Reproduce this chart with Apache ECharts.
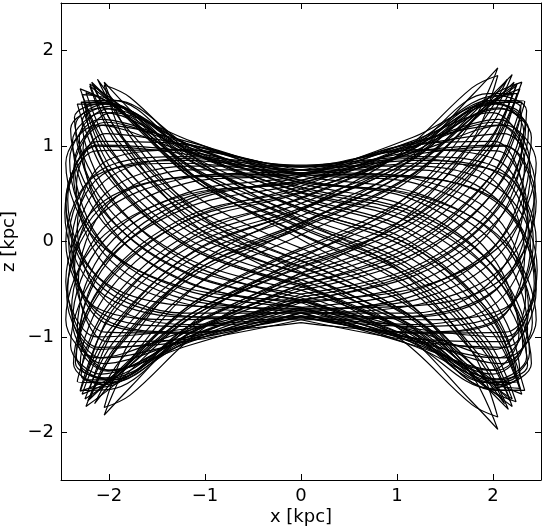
<!DOCTYPE html>
<html>
<head>
<meta charset="utf-8">
<script src="https://cdn.jsdelivr.net/npm/echarts@6/dist/echarts.min.js"></script>
<style>
  html, body { margin: 0; padding: 0; background: #fff; }
  #chart { width: 543px; height: 529px; }
</style>
</head>
<body>
<div id="chart"></div>
<script>
// orbit traced in the meridional plane, one closed loop per array (x, z in kpc)
const loopsWide = [
  [[0,-.14],[-1.11,-.66],[-1.92,-1.39],[-2.22,-1.67],[-1.92,-1.13],[-1.11,-.35],[0,.14],[1.11,.66],[1.92,1.39],[2.22,1.67],[1.92,1.13],[1.11,.35],[0,-.14]],
  [[0,-.27],[-1.14,-.79],[-1.97,-1.45],[-2.28,-1.6],[-1.97,-.95],[-1.14,-.18],[0,.27],[1.14,.79],[1.97,1.45],[2.28,1.6],[1.97,.95],[1.14,.18],[0,-.27]],
  [[0,-.4],[-1.17,-.89],[-2.02,-1.48],[-2.33,-1.47],[-2.02,-.74],[-1.17,0],[0,.4],[1.17,.89],[2.02,1.48],[2.33,1.47],[2.02,.74],[1.17,0],[0,-.4]],
  [[0,-.51],[-1.15,-.96],[-1.99,-1.45],[-2.3,-1.3],[-1.99,-.5],[-1.15,.18],[0,.51],[1.15,.96],[1.99,1.45],[2.3,1.3],[1.99,.5],[1.15,-.18],[0,-.51]],
  [[0,-.61],[-1.2,-1.01],[-2.08,-1.39],[-2.4,-1.09],[-2.08,-.26],[-1.2,.35],[0,.61],[1.2,1.01],[2.08,1.39],[2.4,1.09],[2.08,.26],[1.2,-.35],[0,-.61]],
  [[0,-.69],[-1.19,-1.03],[-2.06,-1.28],[-2.38,-.85],[-2.06,0],[-1.19,.51],[0,.69],[1.19,1.03],[2.06,1.28],[2.38,.85],[2.06,0],[1.19,-.51],[0,-.69]],
  [[0,-.75],[-1.22,-1.01],[-2.11,-1.13],[-2.44,-.58],[-2.11,.26],[-1.22,.66],[0,.75],[1.22,1.01],[2.11,1.13],[2.44,.58],[2.11,-.26],[1.22,-.66],[0,-.75]],
  [[0,-.79],[-1.18,-.96],[-2.04,-.95],[-2.36,-.3],[-2.04,.5],[-1.18,.79],[0,.79],[1.18,.96],[2.04,.95],[2.36,.3],[2.04,-.5],[1.18,-.79],[0,-.79]],
  [[0,-.8],[-1.21,-.89],[-2.1,-.74],[-2.42,0],[-2.1,.74],[-1.21,.89],[0,.8],[1.21,.89],[2.1,.74],[2.42,0],[2.1,-.74],[1.21,-.89],[0,-.8]],
  [[0,-.79],[-1.23,-.79],[-2.13,-.5],[-2.46,.3],[-2.13,.95],[-1.23,.96],[0,.79],[1.23,.79],[2.13,.5],[2.46,-.3],[2.13,-.95],[1.23,-.96],[0,-.79]],
  [[0,-.75],[-1.17,-.66],[-2.03,-.26],[-2.34,.58],[-2.03,1.13],[-1.17,1.01],[0,.75],[1.17,.66],[2.03,.26],[2.34,-.58],[2.03,-1.13],[1.17,-1.01],[0,-.75]],
  [[0,-.69],[-1.2,-.51],[-2.09,0],[-2.41,.85],[-2.09,1.28],[-1.2,1.03],[0,.69],[1.2,.51],[2.09,0],[2.41,-.85],[2.09,-1.28],[1.2,-1.03],[0,-.69]],
  [[0,-.61],[-1.16,-.35],[-2,.26],[-2.31,1.09],[-2,1.39],[-1.16,1.01],[0,.61],[1.16,.35],[2,-.26],[2.31,-1.09],[2,-1.39],[1.16,-1.01],[0,-.61]],
  [[0,-.51],[-1.18,-.18],[-2.04,.5],[-2.36,1.3],[-2.04,1.45],[-1.18,.96],[0,.51],[1.18,.18],[2.04,-.5],[2.36,-1.3],[2.04,-1.45],[1.18,-.96],[0,-.51]],
  [[0,-.4],[-1.13,0],[-1.96,.74],[-2.26,1.47],[-1.96,1.48],[-1.13,.89],[0,.4],[1.13,0],[1.96,-.74],[2.26,-1.47],[1.96,-1.48],[1.13,-.89],[0,-.4]],
  [[0,-.27],[-1.15,.18],[-1.99,.95],[-2.3,1.6],[-1.99,1.45],[-1.15,.79],[0,.27],[1.15,-.18],[1.99,-.95],[2.3,-1.6],[1.99,-1.45],[1.15,-.79],[0,-.27]],
  [[0,-.14],[-1.09,.35],[-1.89,1.13],[-2.18,1.67],[-1.89,1.39],[-1.09,.66],[0,.14],[1.09,-.35],[1.89,-1.13],[2.18,-1.67],[1.89,-1.39],[1.09,-.66],[0,-.14]]
];

const loopsMid = [
  [[0,-.07],[-1.08,-.61],[-1.86,-1.35],[-2.15,-1.7],[-1.86,-1.22],[-1.08,-.45],[0,.07],[1.08,.61],[1.86,1.35],[2.15,1.7],[1.86,1.22],[1.08,.45],[0,-.07]],
  [[0,-.2],[-1.13,-.75],[-1.95,-1.44],[-2.25,-1.65],[-1.95,-1.05],[-1.13,-.27],[0,.2],[1.13,.75],[1.95,1.44],[2.25,1.65],[1.95,1.05],[1.13,.27],[0,-.2]],
  [[0,-.33],[-1.1,-.87],[-1.9,-1.48],[-2.2,-1.54],[-1.9,-.85],[-1.1,-.09],[0,.33],[1.1,.87],[1.9,1.48],[2.2,1.54],[1.9,.85],[1.1,.09],[0,-.33]],
  [[0,-.45],[-1.15,-.96],[-1.98,-1.48],[-2.29,-1.4],[-1.98,-.63],[-1.15,.09],[0,.45],[1.15,.96],[1.98,1.48],[2.29,1.4],[1.98,.63],[1.15,-.09],[0,-.45]],
  [[0,-.55],[-1.17,-1.02],[-2.03,-1.44],[-2.34,-1.21],[-2.03,-.39],[-1.17,.27],[0,.55],[1.17,1.02],[2.03,1.44],[2.34,1.21],[2.03,.39],[1.17,-.27],[0,-.55]],
  [[0,-.64],[-1.15,-1.05],[-1.99,-1.35],[-2.3,-.98],[-1.99,-.13],[-1.15,.45],[0,.64],[1.15,1.05],[1.99,1.35],[2.3,.98],[1.99,.13],[1.15,-.45],[0,-.64]],
  [[0,-.71],[-1.2,-1.05],[-2.07,-1.22],[-2.39,-.72],[-2.07,.13],[-1.2,.61],[0,.71],[1.2,1.05],[2.07,1.22],[2.39,.72],[2.07,-.13],[1.2,-.61],[0,-.71]],
  [[0,-.75],[-1.16,-1.02],[-2.01,-1.05],[-2.32,-.44],[-2.01,.39],[-1.16,.75],[0,.75],[1.16,1.02],[2.01,1.05],[2.32,.44],[2.01,-.39],[1.16,-.75],[0,-.75]],
  [[0,-.78],[-1.19,-.96],[-2.05,-.85],[-2.37,-.15],[-2.05,.63],[-1.19,.87],[0,.78],[1.19,.96],[2.05,.85],[2.37,.15],[2.05,-.63],[1.19,-.87],[0,-.78]],
  [[0,-.78],[-1.17,-.87],[-2.02,-.63],[-2.33,.15],[-2.02,.85],[-1.17,.96],[0,.78],[1.17,.87],[2.02,.63],[2.33,-.15],[2.02,-.85],[1.17,-.96],[0,-.78]],
  [[0,-.75],[-1.22,-.75],[-2.1,-.39],[-2.43,.44],[-2.1,1.05],[-1.22,1.02],[0,.75],[1.22,.75],[2.1,.39],[2.43,-.44],[2.1,-1.05],[1.22,-1.02],[0,-.75]],
  [[0,-.71],[-1.19,-.61],[-2.05,-.13],[-2.37,.72],[-2.05,1.22],[-1.19,1.05],[0,.71],[1.19,.61],[2.05,.13],[2.37,-.72],[2.05,-1.22],[1.19,-1.05],[0,-.71]],
  [[0,-.64],[-1.14,-.45],[-1.97,.13],[-2.27,.98],[-1.97,1.35],[-1.14,1.05],[0,.64],[1.14,.45],[1.97,-.13],[2.27,-.98],[1.97,-1.35],[1.14,-1.05],[0,-.64]],
  [[0,-.55],[-1.18,-.27],[-2.04,.39],[-2.35,1.21],[-2.04,1.44],[-1.18,1.02],[0,.55],[1.18,.27],[2.04,-.39],[2.35,-1.21],[2.04,-1.44],[1.18,-1.02],[0,-.55]],
  [[0,-.45],[-1.12,-.09],[-1.94,.63],[-2.24,1.4],[-1.94,1.48],[-1.12,.96],[0,.45],[1.12,.09],[1.94,-.63],[2.24,-1.4],[1.94,-1.48],[1.12,-.96],[0,-.45]],
  [[0,-.33],[-1.14,.09],[-1.97,.85],[-2.28,1.54],[-1.97,1.48],[-1.14,.87],[0,.33],[1.14,-.09],[1.97,-.85],[2.28,-1.54],[1.97,-1.48],[1.14,-.87],[0,-.33]],
  [[0,-.2],[-1.1,.27],[-1.9,1.05],[-2.2,1.65],[-1.9,1.44],[-1.1,.75],[0,.2],[1.1,-.27],[1.9,-1.05],[2.2,-1.65],[1.9,-1.44],[1.1,-.75],[0,-.2]],
  [[0,-.07],[-1.06,.45],[-1.84,1.22],[-2.12,1.7],[-1.84,1.35],[-1.06,.61],[0,.07],[1.06,-.45],[1.84,-1.22],[2.12,-1.7],[1.84,-1.35],[1.06,-.61],[0,-.07]]
];

const loopsLow = [
  [[0,-.26],[-1.12,-.78],[-1.94,-1.5],[-2.24,-1.73],[-1.94,-1.11],[-1.12,-.32],[0,.16],[1.12,.68],[1.94,1.4],[2.24,1.63],[1.94,1.01],[1.12,.22],[0,-.26]],
  [[0,-.45],[-1.15,-.95],[-1.99,-1.55],[-2.3,-1.56],[-1.99,-.8],[-1.15,-.05],[0,.35],[1.15,.85],[1.99,1.45],[2.3,1.46],[1.99,.7],[1.15,-.05],[0,-.45]],
  [[0,-.62],[-1.19,-1.05],[-2.05,-1.5],[-2.37,-1.28],[-2.05,-.44],[-1.19,.22],[0,.52],[1.19,.95],[2.05,1.4],[2.37,1.18],[2.05,.34],[1.19,-.32],[0,-.62]],
  [[0,-.74],[-1.17,-1.09],[-2.02,-1.35],[-2.33,-.92],[-2.02,-.05],[-1.17,.47],[0,.64],[1.17,.99],[2.02,1.25],[2.33,.82],[2.02,-.05],[1.17,-.57],[0,-.74]],
  [[0,-.82],[-1.22,-1.05],[-2.1,-1.11],[-2.43,-.5],[-2.1,.34],[-1.22,.68],[0,.72],[1.22,.95],[2.1,1.01],[2.43,.4],[2.1,-.44],[1.22,-.78],[0,-.82]],
  [[0,-.85],[-1.2,-.95],[-2.07,-.8],[-2.39,-.05],[-2.07,.7],[-1.2,.85],[0,.75],[1.2,.85],[2.07,.7],[2.39,-.05],[2.07,-.8],[1.2,-.95],[0,-.85]],
  [[0,-.82],[-1.23,-.78],[-2.12,-.44],[-2.45,.4],[-2.12,1.01],[-1.23,.95],[0,.72],[1.23,.68],[2.12,.34],[2.45,-.5],[2.12,-1.11],[1.23,-1.05],[0,-.82]],
  [[0,-.74],[-1.18,-.57],[-2.04,-.05],[-2.36,.82],[-2.04,1.25],[-1.18,.99],[0,.64],[1.18,.47],[2.04,-.05],[2.36,-.92],[2.04,-1.35],[1.18,-1.09],[0,-.74]],
  [[0,-.62],[-1.2,-.32],[-2.08,.34],[-2.4,1.18],[-2.08,1.4],[-1.2,.95],[0,.52],[1.2,.22],[2.08,-.44],[2.4,-1.28],[2.08,-1.5],[1.2,-1.05],[0,-.62]],
  [[0,-.45],[-1.15,-.05],[-1.98,.7],[-2.29,1.46],[-1.98,1.45],[-1.15,.85],[0,.35],[1.15,-.05],[1.98,-.8],[2.29,-1.56],[1.98,-1.55],[1.15,-.95],[0,-.45]],
  [[0,-.26],[-1.1,.22],[-1.91,1.01],[-2.2,1.63],[-1.91,1.4],[-1.1,.68],[0,.16],[1.1,-.32],[1.91,-1.11],[2.2,-1.73],[1.91,-1.5],[1.1,-.78],[0,-.26]]
];

const loopsThin = [
  [[0,-.09],[-1.1,-.63],[-1.91,-1.36],[-2.2,-1.65],[-1.91,-1.1],[-1.1,-.31],[0,.19],[1.1,.73],[1.91,1.46],[2.2,1.75],[1.91,1.2],[1.1,.41],[0,-.09]],
  [[0,-.23],[-1.15,-.76],[-1.99,-1.43],[-2.3,-1.57],[-1.99,-.92],[-1.15,-.13],[0,.33],[1.15,.86],[1.99,1.53],[2.3,1.67],[1.99,1.02],[1.15,.23],[0,-.23]],
  [[0,-.36],[-1.13,-.86],[-1.95,-1.45],[-2.25,-1.45],[-1.95,-.7],[-1.13,.05],[0,.46],[1.13,.96],[1.95,1.55],[2.25,1.55],[1.95,.8],[1.13,.05],[0,-.36]],
  [[0,-.48],[-1.18,-.94],[-2.04,-1.43],[-2.35,-1.27],[-2.04,-.46],[-1.18,.23],[0,.58],[1.18,1.04],[2.04,1.53],[2.35,1.37],[2.04,.56],[1.18,-.13],[0,-.48]],
  [[0,-.58],[-1.16,-.99],[-2.01,-1.36],[-2.32,-1.06],[-2.01,-.21],[-1.16,.41],[0,.68],[1.16,1.09],[2.01,1.46],[2.32,1.16],[2.01,.31],[1.16,-.31],[0,-.58]],
  [[0,-.69],[-1.19,-.42],[-2.06,.2],[-2.38,1.05],[-2.06,1.35],[-1.19,.98],[0,.57],[1.19,.3],[2.06,-.32],[2.38,-1.17],[2.06,-1.47],[1.19,-1.1],[0,-.69]],
  [[0,-.59],[-1.14,-.24],[-1.97,.45],[-2.28,1.26],[-1.97,1.42],[-1.14,.93],[0,.47],[1.14,.12],[1.97,-.57],[2.28,-1.38],[1.97,-1.54],[1.14,-1.05],[0,-.59]],
  [[0,-.47],[-1.17,-.06],[-2.02,.69],[-2.33,1.44],[-2.02,1.44],[-1.17,.85],[0,.35],[1.17,-.06],[2.02,-.81],[2.33,-1.56],[2.02,-1.56],[1.17,-.97],[0,-.47]],
  [[0,-.34],[-1.12,.12],[-1.94,.91],[-2.24,1.56],[-1.94,1.42],[-1.12,.75],[0,.22],[1.12,-.24],[1.94,-1.03],[2.24,-1.68],[1.94,-1.54],[1.12,-.87],[0,-.34]],
  [[0,-.2],[-1.08,.3],[-1.87,1.09],[-2.16,1.64],[-1.87,1.35],[-1.08,.62],[0,.08],[1.08,-.42],[1.87,-1.21],[2.16,-1.76],[1.87,-1.47],[1.08,-.74],[0,-.2]]
];

const loopsRound = [
  [[0,-.62],[-1.23,-.95],[-2.12,-1.22],[-2.45,-.82],[-2.12,0],[-1.23,.48],[0,.62],[1.23,.95],[2.12,1.22],[2.45,.82],[2.12,0],[1.23,-.48],[0,-.62]],
  [[0,-.7],[-1.23,-.92],[-2.12,-1],[-2.45,-.42],[-2.12,.37],[-1.23,.67],[0,.7],[1.23,.92],[2.12,1],[2.45,.42],[2.12,-.37],[1.23,-.67],[0,-.7]],
  [[0,-.72],[-1.23,-.82],[-2.12,-.7],[-2.45,0],[-2.12,.7],[-1.23,.82],[0,.72],[1.23,.82],[2.12,.7],[2.45,0],[2.12,-.7],[1.23,-.82],[0,-.72]],
  [[0,-.7],[-1.23,-.67],[-2.12,-.37],[-2.45,.42],[-2.12,1],[-1.23,.92],[0,.7],[1.23,.67],[2.12,.37],[2.45,-.42],[2.12,-1],[1.23,-.92],[0,-.7]],
  [[0,-.62],[-1.23,-.48],[-2.12,0],[-2.45,.82],[-2.12,1.22],[-1.23,.95],[0,.62],[1.23,.48],[2.12,0],[2.45,-.82],[2.12,-1.22],[1.23,-.95],[0,-.62]]
];

const loopsTall = [
  [[0,-.17],[-1.03,-.77],[-1.78,-1.53],[-2.05,-1.82],[-1.78,-1.25],[-1.03,-.41],[0,.17],[1.03,.77],[1.78,1.53],[2.05,1.82],[1.78,1.25],[1.03,.41],[0,-.17]],
  [[0,-.33],[-1.03,-.92],[-1.78,-1.61],[-2.05,-1.74],[-1.78,-1.05],[-1.03,-.21],[0,.33],[1.03,.92],[1.78,1.61],[2.05,1.74],[1.78,1.05],[1.03,.21],[0,-.33]],
  [[0,-.43],[-1.03,.11],[-1.78,.95],[-2.05,1.64],[-1.78,1.51],[-1.03,.82],[0,.23],[1.03,-.31],[1.78,-1.15],[2.05,-1.84],[1.78,-1.71],[1.03,-1.02],[0,-.43]],
  [[0,-.32],[-1.03,.26],[-1.78,1.1],[-2.05,1.67],[-1.78,1.38],[-1.03,.62],[0,.02],[1.03,-.56],[1.78,-1.4],[2.05,-1.97],[1.78,-1.68],[1.03,-.92],[0,-.32]]
];

const axisRange = [-2.5, 2.5];

const chart = echarts.init(document.getElementById('chart'), null, { renderer: 'canvas' });

const tickFmt = v => {
  if (Math.abs(v - Math.round(v)) > 1e-9) return '';
  return v < 0 ? '\u2212' + Math.abs(v) : String(v);
};
const labelFont = { color: '#000', fontSize: 18, fontFamily: 'DejaVu Sans' };

function axis(pos, withLabel, name) {
  return {
    type: 'value',
    position: pos,
    min: axisRange[0],
    max: axisRange[1],
    splitNumber: 5,
    axisLine: { show: true, onZero: false, lineStyle: { color: '#000', width: 1 } },
    axisTick: { show: true, inside: true, length: 6, lineStyle: { color: '#000', width: 1 } },
    axisLabel: Object.assign({
      show: withLabel, formatter: tickFmt, margin: 7,
      showMinLabel: false, showMaxLabel: false
    }, labelFont),
    splitLine: { show: false },
    name: name || '',
    nameLocation: 'middle',
    nameMoveOverlap: false,
    nameTextStyle: labelFont
  };
}

const xBottom = axis('bottom', true, 'x [kpc]');
xBottom.nameGap = 28;
const yLeft = axis('left', true, 'z [kpc]');
yLeft.nameGap = 43;
yLeft.nameRotate = 90;

const allLoops = loopsWide.concat(loopsMid, loopsLow, loopsThin, loopsRound, loopsTall);

chart.setOption({
  animation: false,
  backgroundColor: '#fff',
  grid: { left: 61, right: 2, top: 3, bottom: 49, containLabel: false, outerBoundsMode: 'none' },
  xAxis: [xBottom, axis('top', false)],
  yAxis: [yLeft, axis('right', false)],
  series: allLoops.map(pts => ({
    type: 'line',
    data: pts,
    smooth: 0.35,
    symbol: 'none',
    silent: true,
    clip: true,
    lineStyle: { color: '#000', width: 1.2 }
  }))
});
</script>
</body>
</html>
